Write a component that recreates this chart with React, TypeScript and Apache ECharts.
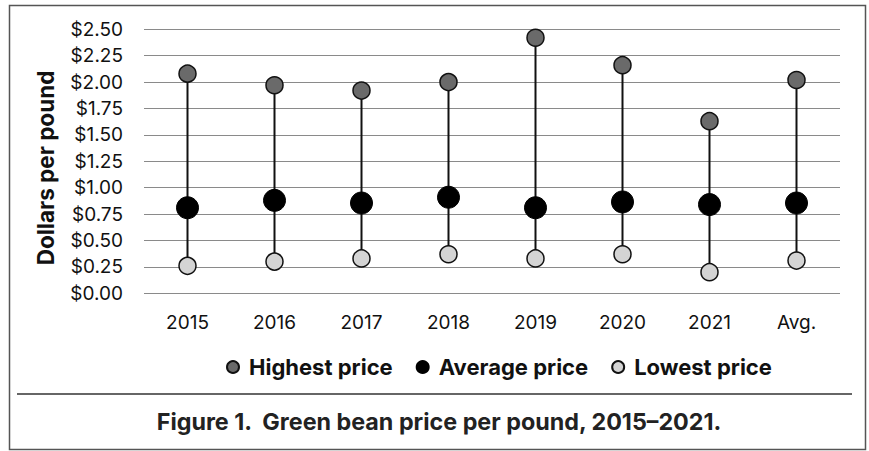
import React, { useEffect, useRef } from "react";
import * as echarts from "echarts";

const categories = ["2015", "2016", "2017", "2018", "2019", "2020", "2021", "Avg."];
const highestPrice = [2.08, 1.97, 1.92, 2.0, 2.42, 2.16, 1.63, 2.02];
const averagePrice = [0.81, 0.88, 0.855, 0.91, 0.81, 0.865, 0.84, 0.855];
const lowestPrice = [0.26, 0.30, 0.33, 0.37, 0.33, 0.37, 0.20, 0.31];
const yTicks = { min: 0, max: 2.5, interval: 0.25 };
const yTitle = "Dollars per pound";
const caption = "Figure 1.  Green bean price per pound, 2015\u20132021.";

const FONT = "Inter, 'Liberation Sans', Arial, sans-serif";

export default function App() {
  const ref = useRef<HTMLDivElement>(null);
  useEffect(() => {
    if (!ref.current) return;
    const chart = echarts.init(ref.current, null, { renderer: "svg" });
    const stems = categories.map((_, i) => [i, lowestPrice[i], highestPrice[i]]);
    chart.setOption({
      animation: false,
      backgroundColor: "#ffffff",
      textStyle: { fontFamily: FONT },
      grid: { left: 144, right: 29, top: 29.3, bottom: 157.7, containLabel: false },
      xAxis: {
        type: "category",
        data: categories,
        axisLine: { show: false },
        axisTick: { show: false },
        axisLabel: { color: "#111", fontSize: 19, margin: 20, fontFamily: FONT },
      },
      yAxis: {
        type: "value",
        min: yTicks.min,
        max: yTicks.max,
        interval: yTicks.interval,
        axisLine: { show: false },
        axisTick: { show: false },
        axisLabel: {
          color: "#111",
          fontSize: 19,
          margin: 21,
          fontFamily: FONT,
          formatter: (v: number) => "$" + v.toFixed(2),
        },
        splitLine: { lineStyle: { color: "#8a8a8a", width: 1.2 } },
      },
      legend: {
        data: ["Highest price", "Average price", "Lowest price"],
        left: 221,
        top: 351,
        icon: "circle",
        itemWidth: 12,
        itemHeight: 12,
        itemGap: 23,
        textStyle: {
          fontSize: 22,
          fontWeight: "bold",
          color: "#111",
          fontFamily: FONT,
          padding: [0, 0, 0, 5],
        },
      },
      graphic: [
        {
          type: "rect",
          shape: { x: 9.5, y: 5.5, width: 856, height: 444 },
          style: { fill: "none", stroke: "#555", lineWidth: 1.5 },
          z: 0,
        },
        {
          type: "line",
          shape: { x1: 17, y1: 394, x2: 852, y2: 394 },
          style: { stroke: "#333", lineWidth: 1.5 },
        },
        {
          type: "text",
          x: 45,
          y: 168,
          rotation: Math.PI / 2,
          style: {
            text: yTitle,
            fontSize: 22.5,
            fontWeight: "bold",
            fill: "#111",
            fontFamily: FONT,
            align: "center",
            verticalAlign: "middle",
          },
        },
        {
          type: "text",
          x: 439,
          y: 421,
          style: {
            text: caption,
            fontSize: 23.3,
            fontWeight: "bold",
            fill: "#222",
            fontFamily: FONT,
            align: "center",
            verticalAlign: "middle",
          },
        },
      ],
      series: [
        {
          type: "custom",
          data: stems,
          encode: { x: 0, y: [1, 2] },
          z: 1,
          renderItem: (params: any, api: any) => {
            const p1 = api.coord([api.value(0), api.value(1)]);
            const p2 = api.coord([api.value(0), api.value(2)]);
            return {
              type: "line",
              shape: { x1: p1[0], y1: p1[1], x2: p2[0], y2: p2[1] },
              style: { stroke: "#111", lineWidth: 2 },
            };
          },
        },
        {
          name: "Highest price",
          type: "scatter",
          data: highestPrice,
          symbol: "circle",
          symbolSize: 17,
          z: 3,
          itemStyle: { color: "#6a6a6a", borderColor: "#111", borderWidth: 1.5, opacity: 1 },
        },
        {
          name: "Average price",
          type: "scatter",
          data: averagePrice,
          symbol: "circle",
          symbolSize: 22,
          z: 3,
          itemStyle: { color: "#000000", borderColor: "#000", borderWidth: 1, opacity: 1 },
        },
        {
          name: "Lowest price",
          type: "scatter",
          data: lowestPrice,
          symbol: "circle",
          symbolSize: 17,
          z: 3,
          itemStyle: { color: "#d4d4d4", borderColor: "#111", borderWidth: 1.5, opacity: 1 },
        },
      ],
    });
    return () => chart.dispose();
  }, []);
  return (
    <div
      ref={ref}
      style={{ position: "absolute", left: 0, top: 0, width: 869, height: 451 }}
    />
  );
}
